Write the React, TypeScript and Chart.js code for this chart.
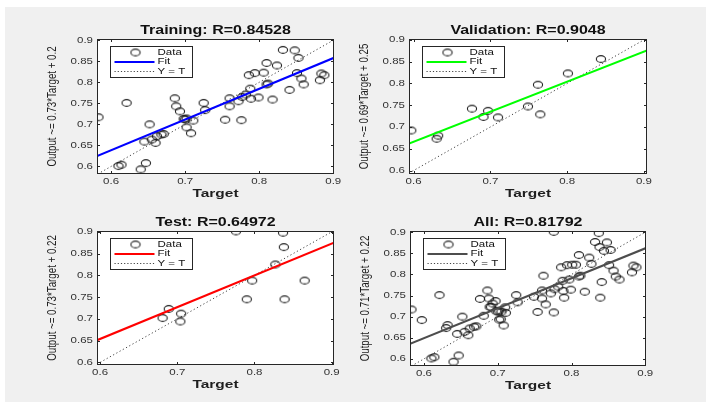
import React, { useEffect, useRef } from 'react';
import { Chart, registerables } from 'chart.js';
Chart.register(...registerables);

// ---------- data ----------
const trainTarget = [0.583, 0.621, 0.610, 0.614, 0.640, 0.647, 0.645, 0.652, 0.655, 0.660, 0.662, 0.668, 0.671, 0.686, 0.688, 0.693, 0.698, 0.702, 0.700, 0.702, 0.708, 0.711, 0.725, 0.727, 0.754, 0.760, 0.760, 0.776, 0.772, 0.777, 0.782, 0.788, 0.789, 0.786, 0.794, 0.799, 0.806, 0.810, 0.810, 0.812, 0.824, 0.818, 0.832, 0.841, 0.848, 0.853, 0.851, 0.857, 0.860, 0.882, 0.884, 0.888];
const trainOutput = [0.717, 0.751, 0.601, 0.604, 0.593, 0.608, 0.659, 0.700, 0.664, 0.656, 0.672, 0.676, 0.677, 0.762, 0.743, 0.731, 0.713, 0.714, 0.712, 0.693, 0.679, 0.709, 0.751, 0.734, 0.711, 0.762, 0.743, 0.710, 0.755, 0.765, 0.771, 0.785, 0.761, 0.817, 0.822, 0.764, 0.823, 0.846, 0.795, 0.797, 0.840, 0.759, 0.877, 0.782, 0.876, 0.858, 0.822, 0.809, 0.795, 0.805, 0.821, 0.817];

const valTarget = [0.597, 0.630, 0.632, 0.676, 0.691, 0.697, 0.710, 0.749, 0.762, 0.765, 0.801, 0.844];
const valOutput = [0.692, 0.673, 0.680, 0.742, 0.723, 0.737, 0.722, 0.747, 0.797, 0.729, 0.823, 0.856];

const testTarget = [0.681, 0.689, 0.705, 0.704, 0.776, 0.790, 0.797, 0.827, 0.837, 0.838, 0.839, 0.865];
const testOutput = [0.702, 0.723, 0.712, 0.694, 0.901, 0.745, 0.788, 0.825, 0.898, 0.865, 0.745, 0.788];

const allTarget = [...trainTarget, ...valTarget, ...testTarget];
const allOutput = [...trainOutput, ...valOutput, ...testOutput];

// fit coefficients (Output ~= slope*Target + intercept)
const trainFit = [0.73, 0.2005];
const valFit = [0.69, 0.252];
const testFit = [0.73, 0.216];
const allFit = [0.71, 0.223];

const titles = ['Training: R=0.84528', 'Validation: R=0.9048', 'Test: R=0.64972', 'All: R=0.81792'];
const yLabels = ['Output ~= 0.73*Target + 0.2', 'Output ~= 0.69*Target + 0.25', 'Output ~= 0.73*Target + 0.22', 'Output ~= 0.71*Target + 0.22'];
const xLabel = 'Target';
const legendLabels = ['Data', 'Fit', 'Y = T'];

const xTicks = [0.6, 0.7, 0.8, 0.9];
const xTickLabels = ['0.6', '0.7', '0.8', '0.9'];
const yTicks = [0.6, 0.65, 0.7, 0.75, 0.8, 0.85, 0.9];
const yTickLabels = ['0.6', '0.65', '0.7', '0.75', '0.8', '0.85', '0.9'];

// axis limits per panel
const trainXLim = [0.581, 0.901];
const trainYLim = [0.582, 0.903];
const valXLim = [0.594, 0.904];
const valYLim = [0.592, 0.902];
const testXLim = [0.596, 0.903];
const testYLim = [0.594, 0.902];
const allXLim = [0.581, 0.901];
const allYLim = [0.583, 0.903];

// ---------- layout / style ----------
const SQ = 0.76; // vertical squish of text in the reference
const FONT = '"Liberation Sans", Arial, Helvetica, sans-serif';
const AXIS_COLOR = '#262626';

type Panel = {
  left: number; top: number; w: number; h: number;
  area: { l: number; t: number; r: number; b: number };
  title: string; ylabel: string;
  xs: number[]; ys: number[]; fit: number[]; color: string;
  xLim: number[]; yLim: number[];
};

const panels: Panel[] = [
  { left: 0, top: 0, w: 353, h: 201, area: { l: 97, t: 39, r: 334, b: 174 }, title: titles[0], ylabel: yLabels[0], xs: trainTarget, ys: trainOutput, fit: trainFit, color: '#0000ff', xLim: trainXLim, yLim: trainYLim },
  { left: 353, top: 0, w: 353, h: 201, area: { l: 56, t: 39, r: 294, b: 174 }, title: titles[1], ylabel: yLabels[1], xs: valTarget, ys: valOutput, fit: valFit, color: '#00ff00', xLim: valXLim, yLim: valYLim },
  { left: 0, top: 201, w: 353, h: 201, area: { l: 97, t: 30, r: 334, b: 164 }, title: titles[2], ylabel: yLabels[2], xs: testTarget, ys: testOutput, fit: testFit, color: '#ff0000', xLim: testXLim, yLim: testYLim },
  { left: 353, top: 201, w: 353, h: 201, area: { l: 57, t: 30, r: 293, b: 165 }, title: titles[3], ylabel: yLabels[3], xs: allTarget, ys: allOutput, fit: allFit, color: '#4d4d4d', xLim: allXLim, yLim: allYLim },
];

function makeMarker(): HTMLCanvasElement {
  const c = document.createElement('canvas');
  c.width = 12; c.height = 10;
  const g = c.getContext('2d')!;
  g.strokeStyle = '#1f1f1f';
  g.lineWidth = 1.1;
  g.beginPath();
  g.ellipse(6, 5, 4.6, 3.4, 0, 0, Math.PI * 2);
  g.stroke();
  return c;
}

function txt(ctx: CanvasRenderingContext2D, s: string, x: number, y: number, align: CanvasTextAlign, font: string, color: string) {
  ctx.save();
  ctx.translate(x, y);
  ctx.scale(1, SQ);
  ctx.font = font;
  ctx.textAlign = align;
  ctx.textBaseline = 'middle';
  ctx.fillStyle = color;
  ctx.fillText(s, 0, 0);
  ctx.restore();
}

function decorPlugin(p: Panel, marker: HTMLCanvasElement) {
  return {
    id: 'matlabDecor',
    beforeDatasetsDraw(chart: any) {
      const { ctx, chartArea: a } = chart;
      ctx.save();
      ctx.fillStyle = '#ffffff';
      ctx.fillRect(a.left, a.top, a.right - a.left, a.bottom - a.top);
      ctx.restore();
    },
    afterDatasetsDraw(chart: any) {
      const { ctx, chartArea: a, scales } = chart;
      const xs = scales.x, ys = scales.y;
      ctx.save();
      // box
      ctx.strokeStyle = AXIS_COLOR;
      ctx.lineWidth = 1;
      ctx.strokeRect(a.left + 0.5, a.top + 0.5, a.right - a.left - 1, a.bottom - a.top - 1);
      // ticks
      ctx.beginPath();
      xTicks.forEach((v) => {
        const px = Math.round(xs.getPixelForValue(v)) + 0.5;
        if (px < a.left || px > a.right) return;
        ctx.moveTo(px, a.bottom); ctx.lineTo(px, a.bottom - 3);
        ctx.moveTo(px, a.top); ctx.lineTo(px, a.top + 3);
      });
      yTicks.forEach((v) => {
        const py = Math.round(ys.getPixelForValue(v)) + 0.5;
        if (py < a.top || py > a.bottom) return;
        ctx.moveTo(a.left, py); ctx.lineTo(a.left + 3, py);
        ctx.moveTo(a.right, py); ctx.lineTo(a.right - 3, py);
      });
      ctx.stroke();
      // tick labels
      xTicks.forEach((v, i) => {
        txt(ctx, xTickLabels[i], xs.getPixelForValue(v), a.bottom + 8, 'center', `11.5px ${FONT}`, '#333333');
      });
      yTicks.forEach((v, i) => {
        txt(ctx, yTickLabels[i], a.left - 4, ys.getPixelForValue(v), 'right', `11.5px ${FONT}`, '#333333');
      });
      // title
      const cx = (a.left + a.right) / 2;
      txt(ctx, p.title, cx, a.top - 8, 'center', `bold 16px ${FONT}`, '#111111');
      // x label
      txt(ctx, xLabel, cx, a.bottom + 20, 'center', `bold 15.5px ${FONT}`, '#1f1f1f');
      // y label (rotated, length squished)
      ctx.save();
      ctx.translate(a.left - 45, (a.top + a.bottom) / 2);
      ctx.rotate(-Math.PI / 2);
      ctx.scale(0.72, 1);
      ctx.font = `13.5px ${FONT}`;
      ctx.textAlign = 'center';
      ctx.textBaseline = 'middle';
      ctx.fillStyle = '#1f1f1f';
      ctx.fillText(p.ylabel, 0, 0);
      ctx.restore();
      // legend
      const lx = a.left + 13.5, ly = a.top + 7.5, lw = 82, lh = 31;
      ctx.fillStyle = '#ffffff';
      ctx.fillRect(lx, ly, lw, lh);
      ctx.strokeStyle = AXIS_COLOR;
      ctx.lineWidth = 1;
      ctx.strokeRect(lx, ly, lw, lh);
      const rows = [ly + 6, ly + 15.5, ly + 25];
      ctx.drawImage(marker, lx + 25 - marker.width / 2, rows[0] - marker.height / 2);
      ctx.strokeStyle = p.color;
      ctx.lineWidth = 2;
      ctx.beginPath(); ctx.moveTo(lx + 4, rows[1]); ctx.lineTo(lx + 44, rows[1]); ctx.stroke();
      ctx.strokeStyle = '#444444';
      ctx.lineWidth = 1;
      ctx.setLineDash([1.2, 2]);
      ctx.beginPath(); ctx.moveTo(lx + 4, rows[2]); ctx.lineTo(lx + 44, rows[2]); ctx.stroke();
      ctx.setLineDash([]);
      legendLabels.forEach((s, i) => txt(ctx, s, lx + 47, rows[i], 'left', `11.5px ${FONT}`, '#111111'));
      ctx.restore();
    },
  };
}

function PanelChart({ p }: { p: Panel }) {
  const ref = useRef<HTMLCanvasElement>(null);
  useEffect(() => {
    if (!ref.current) return;
    const marker = makeMarker();
    const points = p.xs.map((x, i) => ({ x, y: p.ys[i] }));
    const x0 = p.xLim[0], x1 = p.xLim[1];
    const fitPts = [
      { x: x0, y: p.fit[0] * x0 + p.fit[1] },
      { x: x1, y: p.fit[0] * x1 + p.fit[1] },
    ];
    const lo = Math.max(p.xLim[0], p.yLim[0]);
    const hi = Math.min(p.xLim[1], p.yLim[1]);
    const diagPts = [{ x: lo, y: lo }, { x: hi, y: hi }];
    const chart = new Chart(ref.current, {
      type: 'scatter',
      data: {
        datasets: [
          { type: 'line', label: 'Fit', data: fitPts, borderColor: p.color, borderWidth: 2.2, pointRadius: 0, showLine: true, fill: false, order: 0 } as any,
          { type: 'scatter', label: 'Data', data: points, pointStyle: marker, pointRadius: 4, order: 1 } as any,
          { type: 'line', label: 'Y = T', data: diagPts, borderColor: '#444444', borderWidth: 1, borderDash: [1.2, 2.5], pointRadius: 0, showLine: true, fill: false, order: 2 } as any,
        ],
      },
      options: {
        animation: false,
        responsive: false,
        events: [],
        layout: { padding: { left: 0, top: p.area.t, right: p.w - p.area.r, bottom: 0 } },
        plugins: { legend: { display: false }, tooltip: { enabled: false }, title: { display: false } },
        scales: {
          x: {
            type: 'linear', min: p.xLim[0], max: p.xLim[1],
            grid: { display: false }, border: { display: false }, ticks: { display: false },
            afterFit: (s: any) => { s.height = p.h - p.area.b; },
          },
          y: {
            type: 'linear', min: p.yLim[0], max: p.yLim[1],
            grid: { display: false }, border: { display: false }, ticks: { display: false },
            afterFit: (s: any) => { s.width = p.area.l; },
          },
        },
      },
      plugins: [decorPlugin(p, marker)],
    });
    return () => chart.destroy();
  }, [p]);
  return (
    <canvas
      ref={ref}
      width={p.w}
      height={p.h}
      style={{ position: 'absolute', left: p.left, top: p.top, width: p.w, height: p.h }}
    />
  );
}

export default function App() {
  return (
    <div style={{ position: 'fixed', left: 0, top: 0, width: 706, height: 402, background: '#ffffff', overflow: 'hidden' }}>
      <div style={{ position: 'absolute', left: 5, top: 7, right: 0, bottom: 0, background: '#f0f0f0' }} />
      {panels.map((p, i) => <PanelChart key={i} p={p} />)}
    </div>
  );
}
